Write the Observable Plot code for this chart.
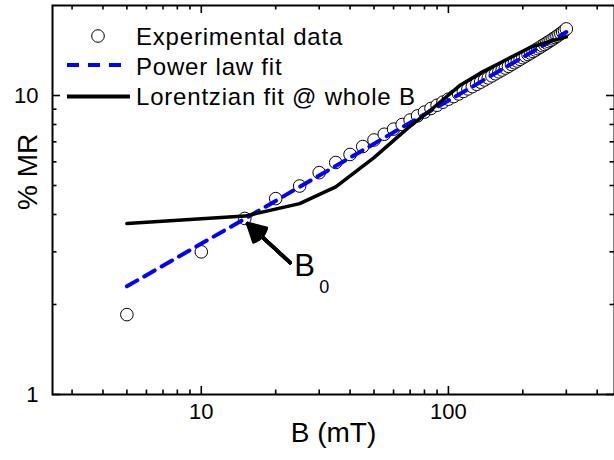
<!DOCTYPE html>
<html><head><meta charset="utf-8">
<script src="https://cdn.jsdelivr.net/npm/d3@7"></script>
<script src="https://cdn.jsdelivr.net/npm/@observablehq/plot@0.6"></script>
<style>
body{margin:0;background:#fff;font-family:"Liberation Sans",Arial,sans-serif;}
#wrap{position:relative;width:614px;height:460px;}
.leg{position:absolute;font-size:24px;white-space:nowrap;line-height:1;color:#000;letter-spacing:0.8px;}
.sym{position:absolute;}
</style></head><body><div id="wrap"></div>
<script>
// Experimental data (B in mT, %MR)
const fieldB = [5,10,15,20,25,30,35,40,45,50,55,60,65,70,75,80,85,90,95,100,
  105,110,115,120,125,130,135,140,145,150,155,160,165,170,175,180,185,190,195,200,
  205,210,215,220,225,230,235,240,245,250,255,260,265,270,275,280,285,290,295,300];
const mrExp = [1.85,3.00,3.88,4.52,4.98,5.52,5.97,6.35,6.75,7.10,7.42,7.72,8.00,8.28,8.55,8.80,9.05,9.28,9.50,9.72,
  9.92,10.12,10.32,10.52,10.71,10.90,11.08,11.27,11.45,11.63,11.82,12.00,12.17,12.35,12.52,12.70,12.87,13.04,13.21,13.38,
  13.55,13.71,13.87,14.03,14.19,14.35,14.51,14.67,14.82,14.98,15.14,15.30,15.46,15.62,15.78,15.95,16.12,16.30,16.48,16.70];
// Power law fit
const powerB = [5, 15, 300];
const powerMR = [2.30, 3.87, 16.3];
// Lorentzian fit @ whole B
const lorB = [5, 15, 25, 35, 50, 70, 87, 112, 135, 163, 215, 260, 300];
const lorMR = [3.73, 3.95, 4.35, 4.95, 6.2, 7.9, 9.1, 10.85, 11.9, 12.9, 14.5, 15.2, 15.7];
// Ticks
const xMajor = [10, 100];
const xMinor = [3,4,5,6,7,8,9,20,30,40,50,60,70,80,90,200,300,400];
const yMajor = [1, 10];
const yMinor = [2,3,4,5,6,7,8,9];
// B0 annotation arrow (tail -> tip)
const arrowTail = [22.9, 2.76];
const arrowTip = [15.4, 3.73];
const headAngles = [12, 24, 36, 48, 58];

const W = 614, H = 460, mt = 5, mb = 66, ml = 52, mr = 0;
const iw = W - ml - mr, ih = H - mt - mb;
const expData = fieldB.map((b, i) => ({b, v: mrExp[i]}));
const powData = powerB.map((b, i) => ({b, v: powerMR[i]}));
const lorData = lorB.map((b, i) => ({b, v: lorMR[i]}));
const arrowData = [{x1: arrowTail[0], y1: arrowTail[1], x2: arrowTip[0], y2: arrowTip[1]}];

const chart = Plot.plot({
  width: W, height: H, marginTop: mt, marginBottom: mb, marginLeft: ml, marginRight: mr,
  style: {fontFamily: "Liberation Sans, Arial, sans-serif", background: "white", color: "black"},
  x: {type: "log", domain: [2.5, 470], axis: null},
  y: {type: "log", domain: [1, 20], axis: null},
  marks: [
    // inward ticks: bottom / top
    Plot.ruleX(xMajor, {x: d => d, insetTop: ih - 8, stroke: "black", strokeWidth: 1.6}),
    Plot.ruleX(xMinor, {x: d => d, insetTop: ih - 4.5, stroke: "black", strokeWidth: 1.6}),
    Plot.ruleX(xMajor, {x: d => d, insetBottom: ih - 8, stroke: "black", strokeWidth: 1.6}),
    Plot.ruleX(xMinor, {x: d => d, insetBottom: ih - 4.5, stroke: "black", strokeWidth: 1.6}),
    // inward ticks: left / right
    Plot.ruleY(yMajor, {y: d => d, insetRight: iw - 8, stroke: "black", strokeWidth: 1.6}),
    Plot.ruleY(yMinor, {y: d => d, insetRight: iw - 4.5, stroke: "black", strokeWidth: 1.6}),
    Plot.ruleY(yMajor, {y: d => d, insetLeft: iw - 8, stroke: "black", strokeWidth: 1.6}),
    Plot.ruleY(yMinor, {y: d => d, insetLeft: iw - 4.5, stroke: "black", strokeWidth: 1.6}),
    Plot.frame({stroke: "black", strokeWidth: 2}),
    // tick labels
    Plot.text(xMajor, {x: d => d, frameAnchor: "bottom", dy: 24, fontSize: 22, text: d => String(d)}),
    Plot.text(yMajor, {y: d => d, frameAnchor: "left", dx: -14, textAnchor: "end", fontSize: 22, text: d => String(d)}),
    // axis titles
    Plot.text(["B (mT)"], {frameAnchor: "bottom", dy: 47, fontSize: 28, text: d => d}),
    Plot.text(["% MR"], {frameAnchor: "left", dx: -24, dy: 10, rotate: -90, fontSize: 28, text: d => d}),
    // data
    Plot.dot(expData, {x: "b", y: "v", r: 6.3, fill: "white", stroke: "black", strokeWidth: 1}),
    Plot.line(powData, {x: "b", y: "v", stroke: "#0000ff", strokeWidth: 4, strokeDasharray: "12,8"}),
    Plot.line(lorData, {x: "b", y: "v", stroke: "black", strokeWidth: 3.5}),
    // annotation arrow (filled head built from several heads)
    ...headAngles.map(a => Plot.arrow(arrowData, {x1: "x1", y1: "y1", x2: "x2", y2: "y2", stroke: "black", strokeWidth: 3.5, headLength: 16, headAngle: a})),
    Plot.text([arrowTail], {x: d => d[0], y: d => d[1], text: () => "B", dx: 4, dy: 13, textAnchor: "start", lineAnchor: "bottom", fontSize: 31}),
    Plot.text([arrowTail], {x: d => d[0], y: d => d[1], text: () => "0", dx: 29, dy: 30, textAnchor: "start", lineAnchor: "bottom", fontSize: 18})
  ]
});
const wrap = document.getElementById("wrap");
wrap.appendChild(chart);

// legend (inside plot frame, top-left)
const legendLabels = ["Experimental data", "Power law fit", "Lorentzian fit @ whole B"];
const legendBaselines = [44, 73.5, 104];
const legendSvg = `<svg class="sym" style="left:0;top:0" width="140" height="110">
  <circle cx="98" cy="36" r="6.3" fill="white" stroke="black" stroke-width="1"/>
  <line x1="67" y1="65" x2="121" y2="65" stroke="#0000ff" stroke-width="4" stroke-dasharray="12,9"/>
  <line x1="67" y1="96.5" x2="130" y2="96.5" stroke="black" stroke-width="4"/>
</svg>`;
wrap.insertAdjacentHTML("beforeend", legendSvg);
legendLabels.forEach((t, i) => {
  const d = document.createElement("div");
  d.className = "leg";
  d.textContent = t;
  d.style.left = "136px";
  d.style.top = (legendBaselines[i] - 19) + "px";
  wrap.appendChild(d);
});
</script>
</body></html>
